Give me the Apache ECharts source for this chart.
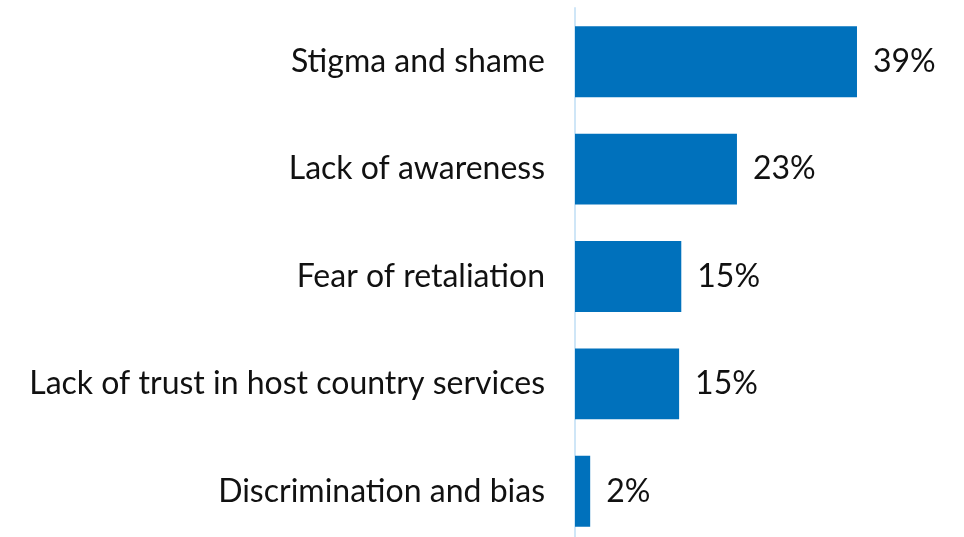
<!DOCTYPE html>
<html>
<head>
<meta charset="utf-8">
<script src="https://cdn.jsdelivr.net/npm/echarts@6/dist/echarts.min.js"></script>
<style>
  html, body { margin: 0; padding: 0; background: #fff; overflow: hidden; }
  /* the axis runs past the bottom edge in the original, so the chart is a bit taller than the window */
  #chart { width: 964px; height: 545px; }
</style>
</head>
<body>
<div id="chart"></div>
<script>
// barriers, top to bottom
const categories = [
  'Stigma and shame',
  'Lack of awareness',
  'Fear of retaliation',
  'Lack of trust in host country services',
  'Discrimination and bias'
]
// share of respondents (%)
const values = [39, 22.4, 14.7, 14.4, 2.1]
const valueLabels = ['39%', '23%', '15%', '15%', '2%']

const chart = echarts.init(document.getElementById('chart'))
chart.setOption({
  animation: false,
  grid: {
    left: 575,
    top: 8,
    right: 0,
    bottom: 0,
    containLabel: false
  },
  xAxis: {
    type: 'value',
    min: 0,
    max: 53.8,
    show: false
  },
  yAxis: {
    type: 'category',
    inverse: true,
    data: categories,
    axisLine: { show: true, lineStyle: { color: '#cfe6f7', width: 2 } },
    axisTick: { show: false },
    axisLabel: {
      color: '#111',
      fontFamily: 'Lato',
      fontSize: 32,
      margin: 30
    }
  },
  series: [{
    type: 'bar',
    data: values,
    barCategoryGap: '34%',
    itemStyle: { color: '#0071bc' },
    label: {
      show: true,
      position: 'right',
      distance: 16,
      color: '#111',
      fontFamily: 'Lato',
      fontSize: 32,
      formatter: (p) => valueLabels[p.dataIndex]
    }
  }]
})
</script>
</body>
</html>
